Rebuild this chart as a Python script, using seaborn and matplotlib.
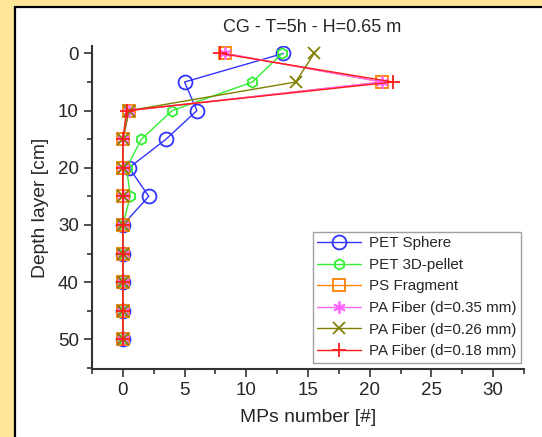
import numpy as np
import pandas as pd
import seaborn as sns
import matplotlib
import matplotlib.pyplot as plt
from matplotlib.patches import Rectangle
from matplotlib.ticker import MultipleLocator

matplotlib.use('Agg')

depth = [0, 5, 10, 15, 20, 25, 30, 35, 40, 45, 50]
pet_sphere = [13.0, 5.0, 6.0, 3.5, 0.5, 2.1, 0, 0, 0, 0, 0]
pet_pellet = [12.9, 10.5, 4.0, 1.5, 0.3, 0.6, 0, 0, 0, 0, 0]
ps_fragment = [8.3, 21.0, 0.5, 0, 0, 0, 0, 0, 0, 0, 0]
pa_035 = [8.3, 21.0, 0.5, 0, 0, 0, 0, 0, 0, 0, 0]
pa_026 = [15.5, 14.0, 0.5, 0, 0, 0, 0, 0, 0, 0, 0]
pa_018 = [7.9, 21.9, 0.3, 0, 0, 0, 0, 0, 0, 0, 0]

labels = ["PET Sphere", "PET 3D-pellet", "PS Fragment",
          "PA Fiber (d=0.35 mm)", "PA Fiber (d=0.26 mm)", "PA Fiber (d=0.18 mm)"]
series = [pet_sphere, pet_pellet, ps_fragment, pa_035, pa_026, pa_018]
colors = ["#3333FF", "#33EE33", "#FF8000", "#FF66FF", "#808000", "#FF1A1A"]
markers = ["o", "h", "s", (6, 2, 0), "x", "+"]
msizes = [10, 7.5, 8, 9, 8.5, 10.5]

sns.set_style("ticks")
plt.rcParams['font.family'] = ['Liberation Sans', 'DejaVu Sans']

fig = plt.figure(figsize=(5.42, 4.37), dpi=100, facecolor='#FFE699')
fig.patches.append(Rectangle((15 / 542, -0.01), 1.02, 1 - 7 / 437 + 0.01,
                             transform=fig.transFigure, facecolor='white',
                             edgecolor='black', linewidth=1.6, zorder=-10))

ax = fig.add_axes([92 / 542, (437 - 369) / 437, (524 - 92) / 542, (369 - 46) / 437])
ax.set_facecolor('white')
ax.set_zorder(5)

for lab, vals, c, m, ms in zip(labels, series, colors, markers, msizes):
    df = pd.DataFrame({"x": vals, "depth": depth})
    filled = m in [(6, 2, 0), "x", "+"]
    sns.lineplot(data=df, x="x", y="depth", sort=False, orient='y',
                 estimator=None, ax=ax, color=c,
                 linewidth=1.0, marker=m, markersize=ms,
                 markerfacecolor=c if filled else 'none',
                 markeredgecolor=c, markeredgewidth=1.3, label=lab)

ax.set_xlim(-2.5, 32.5)
ax.set_ylim(55.2, -1.3)
ax.xaxis.set_major_locator(MultipleLocator(5))
ax.xaxis.set_minor_locator(MultipleLocator(2.5))
ax.yaxis.set_major_locator(MultipleLocator(10))
ax.yaxis.set_minor_locator(MultipleLocator(5))
ax.tick_params(which='major', length=6, width=1.2, color='#333333', labelsize=13.5)
ax.tick_params(which='minor', length=3.5, width=1.2, color='#333333')
for s in ['top', 'right']:
    ax.spines[s].set_visible(False)
for s in ['left', 'bottom']:
    ax.spines[s].set_linewidth(1.5)
    ax.spines[s].set_color('#333333')

ax.set_xlabel("MPs number [#]", fontsize=13.9, labelpad=7)
ax.set_ylabel("Depth layer [cm]", fontsize=13.9, labelpad=6)
fig.text(312 / 542, 1 - 27 / 437, "CG - T=5h - H=0.65 m", ha='center',
         va='center', fontsize=13)

leg = ax.legend(loc='lower right', bbox_to_anchor=(1.0, 0.01), fontsize=10.9,
                frameon=True, fancybox=False, edgecolor='#888888',
                handlelength=2.9, handletextpad=0.5, borderpad=0.3,
                labelspacing=0.5, borderaxespad=0.2)
leg.get_frame().set_linewidth(1.0)

fig.savefig("out.png", dpi=100, facecolor=fig.get_facecolor())
